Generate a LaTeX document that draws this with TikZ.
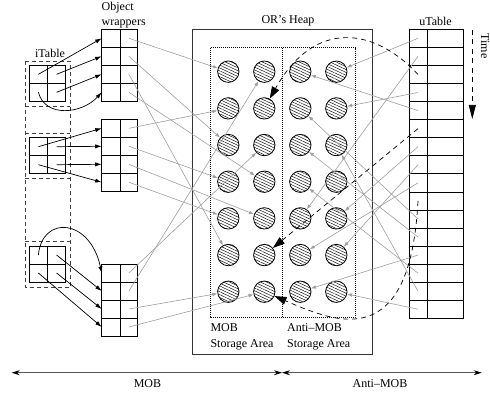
\documentclass[tikz,border=0pt]{standalone}
\usepackage{fontspec}
\setmainfont{Liberation Serif}
\usetikzlibrary{arrows.meta,patterns.meta}
\begin{document}
\begin{tikzpicture}[x=1pt,y=-1pt,
  font=\fontsize{12}{14}\selectfont,
  circ/.style={circle, draw=black, line width=0.8pt, minimum size=21.4pt, inner sep=0pt,
    pattern={Lines[angle=-25,distance=2.6pt,line width=0.45pt]}},
  gline/.style={draw=black!38, line width=0.6pt, -{Latex[length=5pt,width=3.6pt]}},
  bline/.style={draw=black, line width=0.7pt, -{Latex[length=6.5pt,width=4.2pt]}},
  dline/.style={draw=black, line width=0.7pt, dash pattern=on 5pt off 4pt, -{Triangle[length=12pt,width=8pt]}},
  cellline/.style={draw=black, line width=0.7pt},
  heapline/.style={draw=black!80, line width=0.8pt},
  dotline/.style={draw=black, line width=0.6pt, dash pattern=on 0.7pt off 1.3pt},
  itline/.style={draw=black!75, line width=0.8pt, dash pattern=on 4pt off 3pt},
  barrow/.style={draw=black!65, line width=0.8pt, {Stealth[length=8pt,width=5pt,black]}-{Stealth[length=8pt,width=5pt,black]}},
  lbl/.style={inner sep=0pt}]
\useasboundingbox (0,0) rectangle (490,393);

% ---------- iTable ----------
\draw[itline] (25,61) rectangle (70,287.3);
\foreach \yy in {106,133.3,178.3,241.7} \draw[itline] (25,\yy) -- (70,\yy);
\foreach \g/\t in {1/65.3,2/137.7,3/246} {
  \draw[cellline] (29.3,\t) rectangle (65.7,{\t+36});
  \draw[cellline] (47.5,\t) -- (47.5,{\t+36});
  \draw[cellline] (29.3,{\t+18}) -- (65.7,{\t+18});
  \coordinate (g\g tl) at (38.4,{\t+9});
  \coordinate (g\g tr) at (56.6,{\t+9});
  \coordinate (g\g bl) at (38.4,{\t+27});
  \coordinate (g\g br) at (56.6,{\t+27});
}
\node[lbl] (itlab) at (50,53) {iTable};

% ---------- Object wrappers ----------
\foreach \b/\t in {1/29.3,2/119.3,3/264} {
  \draw[cellline] (101.7,\t) rectangle (137.7,{\t+72});
  \draw[cellline] (120,\t) -- (120,{\t+72});
  \foreach \k in {1,2,3} \draw[cellline] (101.7,{\t+18*\k}) -- (137.7,{\t+18*\k});
  \foreach \k in {1,2,3,4} {
    \coordinate (w\b-\k) at (128.9,{\t+18*\k-9});
    \coordinate (wl\b-\k) at (101.7,{\t+18*\k-9});
  }
}
\node[lbl,anchor=west] (owlab1) at (101.5,8) {Object};
\node[lbl,anchor=west] (owlab2) at (101.5,23.5) {wrappers};

% ---------- Heap ----------
\draw[heapline] (192.3,29.3) rectangle (372.7,354.3);
\draw[dotline] (210.7,47.7) rectangle (355,317.7);
\draw[dotline] (282.7,47.7) -- (282.7,317.7);
\node[lbl] (heaplab) at (288,21) {OR's Heap};
\node[lbl,anchor=west] (moblab) at (210.3,327.7) {MOB};
\node[lbl,anchor=west] (mobsa) at (210.3,345) {Storage Area};
\node[lbl,anchor=west] (amoblab) at (287,327.7) {Anti--MOB};
\node[lbl,anchor=west] (amobsa) at (287,345) {Storage Area};

\foreach \c/\x in {1/228.3,2/264.3,3/300.3,4/336.3}
  \foreach \r in {1,...,7}
    \node[circ] (c\c\r) at (\x,{71.7+36.67*(\r-1)}) {};

% ---------- uTable ----------
\draw[cellline] (409,29.3) rectangle (463.3,318.3);
\draw[cellline] (427.3,29.3) -- (427.3,318.3);
\foreach \k in {1,...,15} \draw[cellline] (409,{29.3+18.0625*\k}) -- (463.3,{29.3+18.0625*\k});
\foreach \k in {1,...,16} \coordinate (u\k) at (418,{29.3+18.0625*(\k-0.5)});
\node[lbl] (utlab) at (435.5,21) {uTable};

% Time
\coordinate (t0) at (472.3,30);
\coordinate (t1) at (472.3,119);
\draw[draw=black, line width=0.7pt, dash pattern=on 5pt off 4.5pt, -{Triangle[length=14pt,width=7pt]}] (t0) -- (t1);
\node[lbl,rotate=-90] (timelab) at (485,46) {Time};

% ---------- iTable -> wrappers ----------
\draw[bline] (g1tl) -- (wl1-1);
\draw[bline] (g1tr) -- (wl1-2);
\draw[bline] (g1br) -- (wl1-3);
\draw[bline] (g1bl) .. controls (45,118) and (82,114) .. (wl1-4);
\draw[bline] (g2tl) -- (wl2-1);
\draw[bline] (g2tr) -- (wl2-2);
\draw[bline] (g2br) -- (wl2-3);
\draw[bline] (g2bl) -- (wl2-4);
\draw[bline] (g3tl) .. controls (42,215) and (90,218) .. (wl3-1);
\draw[bline] (g3tr) -- (wl3-2);
\draw[bline] (g3br) -- (wl3-3);
\draw[bline] (g3bl) -- (wl3-4);

% ---------- wrappers -> heap ----------
\draw[gline] (w1-1) -- (c11);
\draw[gline] (w1-2) -- (c13);
\draw[gline] (w1-3) -- (c16);
\draw[gline] (w1-4) -- (c24);
\draw[gline] (w2-1) -- (c12);
\draw[gline] (w2-2) -- (c14);
\draw[gline] (w2-3) -- (c25);
\draw[gline] (w2-4) -- (c15);
\draw[gline] (w3-1) -- (c23);
\draw[gline] (w3-2) -- (c21);
\draw[gline] (w3-3) -- (c17);
\draw[gline] (w3-4) -- (c27);

% ---------- uTable -> heap ----------
\draw[gline] (u1) -- (c41);
\draw[gline] (u2) -- (c35);
\draw[gline] (u4) -- (c42);
\draw[gline] (u5) -- (c31);
\draw[gline] (u7) -- (c45);
\draw[gline] (u8) -- (c46);
\draw[gline] (u9) -- (c36);
\draw[gline] (u11) -- (c32);
\draw[gline] (u12) -- (c33);
\draw[gline] (u13) -- (c37);
\draw[gline] (u14) -- (c34);
\draw[gline] (u15) -- (c43);
\draw[gline] (u16) -- (c47);

% dashed moves
\draw[dline] (u3) .. controls (375,28) and (315,18) .. (c22);
\draw[dline] (u6) -- (c26);
\draw[dline] (u10) .. controls (410,355) and (335,322) .. (c27);

% ---------- bottom arrows ----------
\coordinate (bl) at (11.7,372.7);
\coordinate (bm) at (282,372.7);
\coordinate (br) at (481.7,372.7);
\draw[barrow] (bl) -- (bm);
\draw[barrow] (bm) -- (br);
\node[lbl] (mobb) at (147.5,383.5) {MOB};
\node[lbl] (amobb) at (380,383.5) {Anti--MOB};
\end{tikzpicture}
\end{document}
